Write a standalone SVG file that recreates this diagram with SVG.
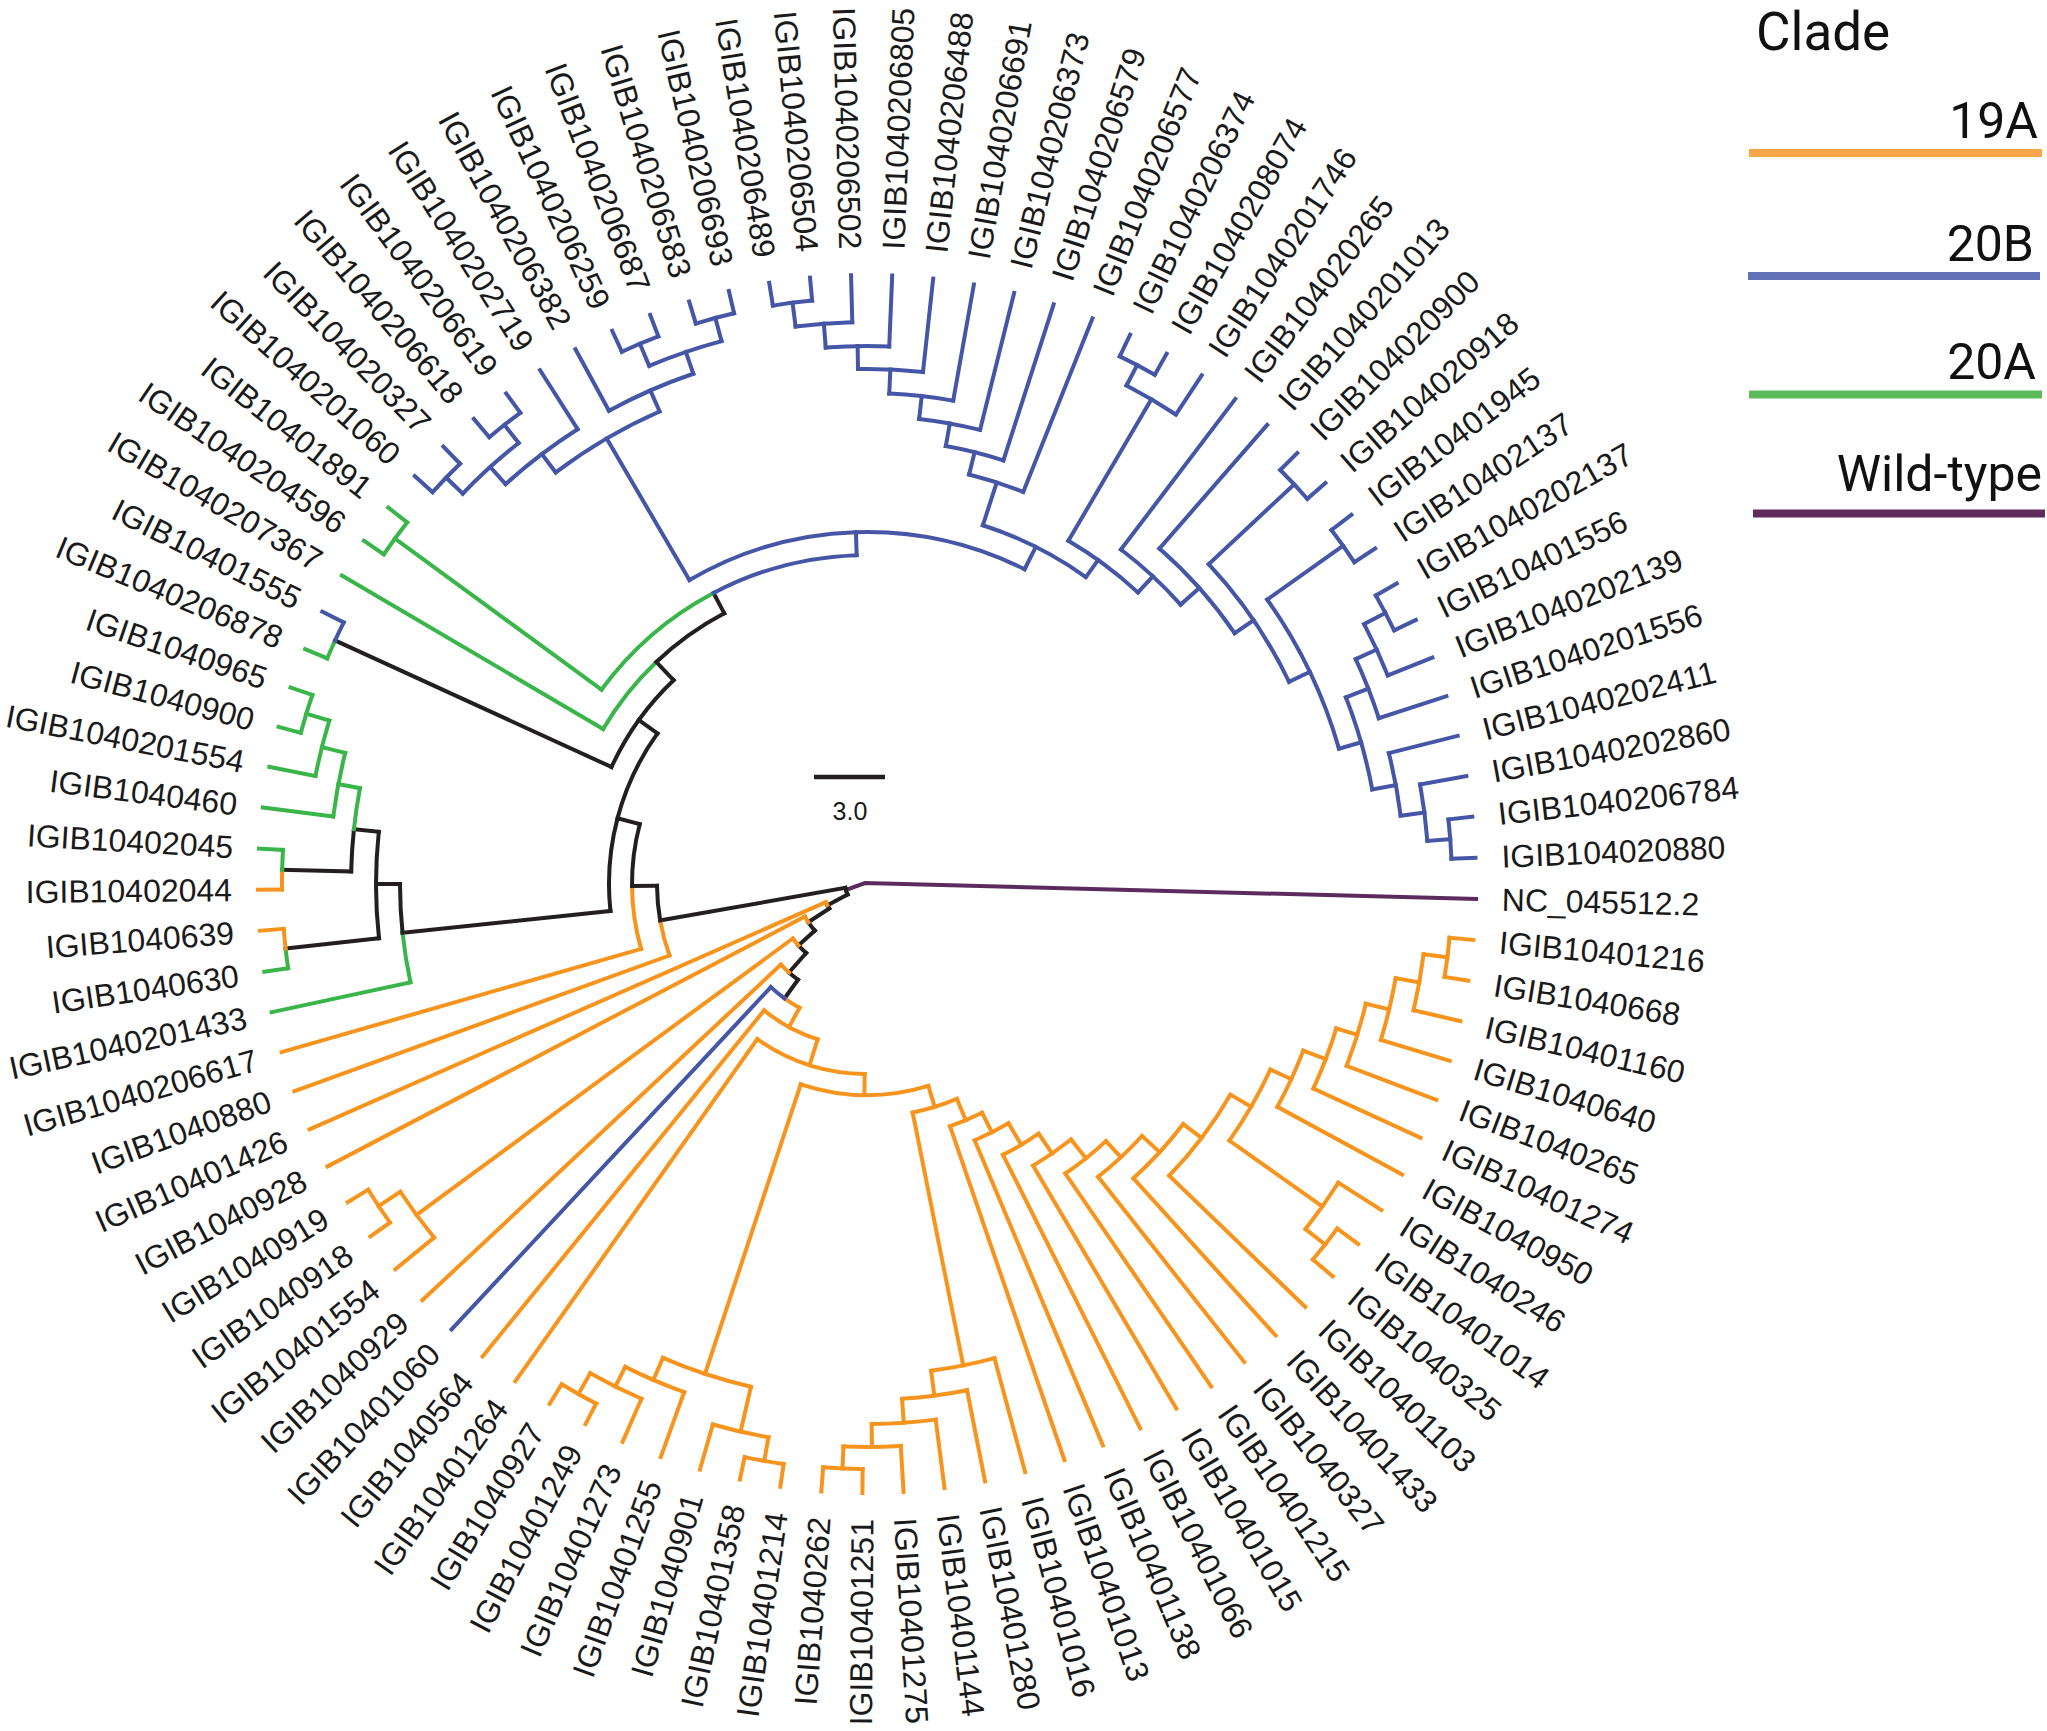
<svg xmlns="http://www.w3.org/2000/svg" width="2047" height="1731" viewBox="0 0 2047 1731">
<style>
.t path,.t circle{fill:none;stroke-width:4;stroke-linecap:square}
.o{stroke:#F7941D}.b{stroke:#4656A6}.g{stroke:#3AB54A}.k{stroke:#231F20}.p{stroke:#5C2B5E}
.lb{font-family:"Liberation Sans",Arial,sans-serif;font-size:32px;fill:#1a1a1a}
.e{text-anchor:end}
.lg{font-family:Roboto,"Liberation Sans",sans-serif;fill:#111}
</style>
<rect width="2047" height="1731" fill="#fff"/>
<g id="connectors" class="t" transform="translate(867 884)">
<path class="p" d="M-21 6L-2 -1L609 15"/>
<circle class="k" r="22" pathLength="360" stroke-dasharray="18.4 720" transform="rotate(151.6)"/>
<path class="k" transform="rotate(151.6)" d="M22 0H45"/>
<circle class="k" r="45" pathLength="360" stroke-dasharray="4.6 720" transform="rotate(147)"/>
<circle class="o" r="45" pathLength="360" stroke-dasharray="4.64 720" transform="rotate(151.6)"/>
<path class="o" transform="rotate(156.24)" d="M45 0H609"/>
<path class="k" transform="rotate(147)" d="M45 0H70"/>
<circle class="k" r="70" pathLength="360" stroke-dasharray="8.8 720" transform="rotate(138.2)"/>
<circle class="o" r="70" pathLength="360" stroke-dasharray="5.37 720" transform="rotate(147)"/>
<path class="o" transform="rotate(152.37)" d="M70 0H609"/>
<path class="k" transform="rotate(138.2)" d="M70 0H92"/>
<circle class="k" r="92" pathLength="360" stroke-dasharray="6.8 720" transform="rotate(131.4)"/>
<circle class="o" r="92" pathLength="360" stroke-dasharray="5.5 720" transform="rotate(138.2)"/>
<path class="o" transform="rotate(143.7)" d="M92 0H559"/>
<circle class="o" r="559" pathLength="360" stroke-dasharray="5.84 720" transform="rotate(140.76)"/>
<path class="o" transform="rotate(140.76)" d="M559 0H609"/>
<path class="o" transform="rotate(146.6)" d="M559 0H585"/>
<circle class="o" r="585" pathLength="360" stroke-dasharray="3.87 720" transform="rotate(144.63)"/>
<path class="o" transform="rotate(144.63)" d="M585 0H609"/>
<path class="o" transform="rotate(148.5)" d="M585 0H609"/>
<path class="k" transform="rotate(131.4)" d="M92 0H118"/>
<circle class="k" r="118" pathLength="360" stroke-dasharray="5.6 720" transform="rotate(125.8)"/>
<circle class="o" r="118" pathLength="360" stroke-dasharray="5.49 720" transform="rotate(131.4)"/>
<path class="o" transform="rotate(136.89)" d="M118 0H609"/>
<path class="k" transform="rotate(125.8)" d="M118 0H141"/>
<circle class="o" r="141" pathLength="360" stroke-dasharray="7.2 720" transform="rotate(118.6)"/>
<circle class="b" r="141" pathLength="360" stroke-dasharray="7.21 720" transform="rotate(125.8)"/>
<path class="b" transform="rotate(133.01)" d="M141 0H609"/>
<path class="o" transform="rotate(118.6)" d="M141 0H163"/>
<circle class="o" r="163" pathLength="360" stroke-dasharray="21.54 720" transform="rotate(107.6)"/>
<path class="o" transform="rotate(129.14)" d="M163 0H609"/>
<path class="o" transform="rotate(107.6)" d="M163 0H190"/>
<circle class="o" r="190" pathLength="360" stroke-dasharray="34.57 720" transform="rotate(90.7)"/>
<path class="o" transform="rotate(125.27)" d="M190 0H609"/>
<path class="o" transform="rotate(90.7)" d="M190 0H211"/>
<circle class="o" r="211" pathLength="360" stroke-dasharray="35.2 720" transform="rotate(73.1)"/>
<path class="o" transform="rotate(108.3)" d="M211 0H516"/>
<circle class="o" r="516" pathLength="360" stroke-dasharray="10.3 720" transform="rotate(103)"/>
<path class="o" transform="rotate(103)" d="M516 0H562"/>
<circle class="o" r="562" pathLength="360" stroke-dasharray="5.82 720" transform="rotate(100.1)"/>
<path class="o" transform="rotate(105.92)" d="M562 0H609"/>
<path class="o" transform="rotate(100.1)" d="M562 0H586"/>
<circle class="o" r="586" pathLength="360" stroke-dasharray="3.87 720" transform="rotate(98.18)"/>
<path class="o" transform="rotate(98.18)" d="M586 0H609"/>
<path class="o" transform="rotate(102.05)" d="M586 0H609"/>
<path class="o" transform="rotate(113.3)" d="M516 0H540"/>
<circle class="o" r="540" pathLength="360" stroke-dasharray="6.81 720" transform="rotate(109.79)"/>
<path class="o" transform="rotate(109.79)" d="M540 0H609"/>
<path class="o" transform="rotate(116.6)" d="M540 0H562"/>
<circle class="o" r="562" pathLength="360" stroke-dasharray="5.84 720" transform="rotate(113.66)"/>
<path class="o" transform="rotate(113.66)" d="M562 0H609"/>
<path class="o" transform="rotate(119.5)" d="M562 0H586"/>
<circle class="o" r="586" pathLength="360" stroke-dasharray="3.87 720" transform="rotate(117.53)"/>
<path class="o" transform="rotate(117.53)" d="M586 0H609"/>
<path class="o" transform="rotate(121.4)" d="M586 0H609"/>
<path class="o" transform="rotate(73.1)" d="M211 0H233"/>
<circle class="o" r="233" pathLength="360" stroke-dasharray="11.4 720" transform="rotate(67.3)"/>
<path class="o" transform="rotate(78.7)" d="M233 0H491"/>
<circle class="o" r="491" pathLength="360" stroke-dasharray="7.55 720" transform="rotate(74.95)"/>
<path class="o" transform="rotate(74.95)" d="M491 0H609"/>
<path class="o" transform="rotate(82.5)" d="M491 0H516"/>
<circle class="o" r="516" pathLength="360" stroke-dasharray="7.28 720" transform="rotate(78.82)"/>
<path class="o" transform="rotate(78.82)" d="M516 0H609"/>
<path class="o" transform="rotate(86.1)" d="M516 0H540"/>
<circle class="o" r="540" pathLength="360" stroke-dasharray="6.81 720" transform="rotate(82.69)"/>
<path class="o" transform="rotate(82.69)" d="M540 0H609"/>
<path class="o" transform="rotate(89.5)" d="M540 0H563"/>
<circle class="o" r="563" pathLength="360" stroke-dasharray="5.84 720" transform="rotate(86.56)"/>
<path class="o" transform="rotate(86.56)" d="M563 0H609"/>
<path class="o" transform="rotate(92.4)" d="M563 0H585"/>
<circle class="o" r="585" pathLength="360" stroke-dasharray="3.87 720" transform="rotate(90.43)"/>
<path class="o" transform="rotate(90.43)" d="M585 0H609"/>
<path class="o" transform="rotate(94.3)" d="M585 0H609"/>
<path class="o" transform="rotate(67.3)" d="M233 0H256"/>
<circle class="o" r="256" pathLength="360" stroke-dasharray="7.78 720" transform="rotate(63.3)"/>
<path class="o" transform="rotate(71.08)" d="M256 0H609"/>
<path class="o" transform="rotate(63.3)" d="M256 0H278"/>
<circle class="o" r="278" pathLength="360" stroke-dasharray="7.81 720" transform="rotate(59.4)"/>
<path class="o" transform="rotate(67.21)" d="M278 0H609"/>
<path class="o" transform="rotate(59.4)" d="M278 0H303"/>
<circle class="o" r="303" pathLength="360" stroke-dasharray="7.84 720" transform="rotate(55.5)"/>
<path class="o" transform="rotate(63.34)" d="M303 0H609"/>
<path class="o" transform="rotate(55.5)" d="M303 0H327"/>
<circle class="o" r="327" pathLength="360" stroke-dasharray="8.07 720" transform="rotate(51.4)"/>
<path class="o" transform="rotate(59.47)" d="M327 0H609"/>
<path class="o" transform="rotate(51.4)" d="M327 0H351"/>
<circle class="o" r="351" pathLength="360" stroke-dasharray="8.49 720" transform="rotate(47.1)"/>
<path class="o" transform="rotate(55.59)" d="M351 0H609"/>
<path class="o" transform="rotate(47.1)" d="M351 0H373"/>
<circle class="o" r="373" pathLength="360" stroke-dasharray="9.22 720" transform="rotate(42.5)"/>
<path class="o" transform="rotate(51.72)" d="M373 0H609"/>
<path class="o" transform="rotate(42.5)" d="M373 0H397"/>
<circle class="o" r="397" pathLength="360" stroke-dasharray="10.65 720" transform="rotate(37.2)"/>
<path class="o" transform="rotate(47.85)" d="M397 0H609"/>
<path class="o" transform="rotate(37.2)" d="M397 0H420"/>
<circle class="o" r="420" pathLength="360" stroke-dasharray="13.88 720" transform="rotate(30.1)"/>
<path class="o" transform="rotate(43.98)" d="M420 0H609"/>
<path class="o" transform="rotate(30.1)" d="M420 0H444"/>
<circle class="o" r="444" pathLength="360" stroke-dasharray="10.6 720" transform="rotate(24.7)"/>
<path class="o" transform="rotate(35.3)" d="M444 0H558"/>
<circle class="o" r="558" pathLength="360" stroke-dasharray="5.83 720" transform="rotate(32.37)"/>
<path class="o" transform="rotate(32.37)" d="M558 0H609"/>
<path class="o" transform="rotate(38.2)" d="M558 0H583"/>
<circle class="o" r="583" pathLength="360" stroke-dasharray="3.87 720" transform="rotate(36.24)"/>
<path class="o" transform="rotate(36.24)" d="M583 0H609"/>
<path class="o" transform="rotate(40.11)" d="M583 0H609"/>
<path class="o" transform="rotate(24.7)" d="M444 0H467"/>
<circle class="o" r="467" pathLength="360" stroke-dasharray="7.6 720" transform="rotate(20.9)"/>
<path class="o" transform="rotate(28.5)" d="M467 0H609"/>
<path class="o" transform="rotate(20.9)" d="M467 0H491"/>
<circle class="o" r="491" pathLength="360" stroke-dasharray="7.53 720" transform="rotate(17.1)"/>
<path class="o" transform="rotate(24.63)" d="M491 0H609"/>
<path class="o" transform="rotate(17.1)" d="M491 0H513"/>
<circle class="o" r="513" pathLength="360" stroke-dasharray="7.26 720" transform="rotate(13.5)"/>
<path class="o" transform="rotate(20.76)" d="M513 0H609"/>
<path class="o" transform="rotate(13.5)" d="M513 0H537"/>
<circle class="o" r="537" pathLength="360" stroke-dasharray="6.78 720" transform="rotate(10.1)"/>
<path class="o" transform="rotate(16.88)" d="M537 0H609"/>
<path class="o" transform="rotate(10.1)" d="M537 0H561"/>
<circle class="o" r="561" pathLength="360" stroke-dasharray="5.81 720" transform="rotate(7.2)"/>
<path class="o" transform="rotate(13.01)" d="M561 0H609"/>
<path class="o" transform="rotate(7.2)" d="M561 0H585"/>
<circle class="o" r="585" pathLength="360" stroke-dasharray="3.87 720" transform="rotate(5.27)"/>
<path class="o" transform="rotate(5.27)" d="M585 0H609"/>
<path class="o" transform="rotate(9.14)" d="M585 0H609"/>
<path class="k" transform="rotate(170)" d="M22 0H210"/>
<circle class="o" r="210" pathLength="360" stroke-dasharray="9.89 720" transform="rotate(160.11)"/>
<circle class="k" r="210" pathLength="360" stroke-dasharray="9.5 720" transform="rotate(170)"/>
<path class="o" transform="rotate(160.11)" d="M210 0H609"/>
<path class="k" transform="rotate(179.5)" d="M210 0H235"/>
<circle class="o" r="235" pathLength="360" stroke-dasharray="15.52 720" transform="rotate(163.98)"/>
<circle class="k" r="235" pathLength="360" stroke-dasharray="15.25 720" transform="rotate(179.5)"/>
<path class="o" transform="rotate(163.98)" d="M235 0H609"/>
<path class="k" transform="rotate(194.75)" d="M235 0H258"/>
<circle class="k" r="258" pathLength="360" stroke-dasharray="41.7 720" transform="rotate(174)"/>
<path class="k" transform="rotate(174)" d="M258 0H467"/>
<circle class="g" r="467" pathLength="360" stroke-dasharray="6.15 720" transform="rotate(167.85)"/>
<circle class="k" r="467" pathLength="360" stroke-dasharray="6 720" transform="rotate(174)"/>
<path class="g" transform="rotate(167.85)" d="M467 0H609"/>
<path class="k" transform="rotate(180)" d="M467 0H491"/>
<circle class="k" r="491" pathLength="360" stroke-dasharray="12.44 720" transform="rotate(173.66)"/>
<path class="k" transform="rotate(173.66)" d="M491 0H585"/>
<circle class="g" r="585" pathLength="360" stroke-dasharray="1.94 720" transform="rotate(171.72)"/>
<circle class="o" r="585" pathLength="360" stroke-dasharray="1.94 720" transform="rotate(173.66)"/>
<path class="g" transform="rotate(171.72)" d="M585 0H609"/>
<path class="o" transform="rotate(175.6)" d="M585 0H609"/>
<path class="k" transform="rotate(186.1)" d="M491 0H516"/>
<circle class="k" r="516" pathLength="360" stroke-dasharray="4.7 720" transform="rotate(181.4)"/>
<circle class="g" r="516" pathLength="360" stroke-dasharray="4.6 720" transform="rotate(186.1)"/>
<path class="k" transform="rotate(181.4)" d="M516 0H585"/>
<circle class="o" r="585" pathLength="360" stroke-dasharray="1.93 720" transform="rotate(179.47)"/>
<circle class="g" r="585" pathLength="360" stroke-dasharray="1.94 720" transform="rotate(181.4)"/>
<path class="o" transform="rotate(179.47)" d="M585 0H609"/>
<path class="g" transform="rotate(183.34)" d="M585 0H609"/>
<path class="g" transform="rotate(190.7)" d="M516 0H538"/>
<circle class="g" r="538" pathLength="360" stroke-dasharray="6.89 720" transform="rotate(187.21)"/>
<path class="g" transform="rotate(187.21)" d="M538 0H609"/>
<path class="g" transform="rotate(194.1)" d="M538 0H562"/>
<circle class="g" r="562" pathLength="360" stroke-dasharray="5.82 720" transform="rotate(191.08)"/>
<path class="g" transform="rotate(191.08)" d="M562 0H609"/>
<path class="g" transform="rotate(196.9)" d="M562 0H586"/>
<circle class="g" r="586" pathLength="360" stroke-dasharray="3.87 720" transform="rotate(194.95)"/>
<path class="g" transform="rotate(194.95)" d="M586 0H609"/>
<path class="g" transform="rotate(198.82)" d="M586 0H609"/>
<path class="k" transform="rotate(215.7)" d="M258 0H281"/>
<circle class="k" r="281" pathLength="360" stroke-dasharray="21.9 720" transform="rotate(204.6)"/>
<path class="k" transform="rotate(204.6)" d="M281 0H585"/>
<circle class="g" r="585" pathLength="360" stroke-dasharray="1.91 720" transform="rotate(202.69)"/>
<circle class="b" r="585" pathLength="360" stroke-dasharray="1.96 720" transform="rotate(204.6)"/>
<path class="g" transform="rotate(202.69)" d="M585 0H609"/>
<path class="b" transform="rotate(206.56)" d="M585 0H609"/>
<path class="k" transform="rotate(226.5)" d="M281 0H306"/>
<circle class="g" r="306" pathLength="360" stroke-dasharray="16.07 720" transform="rotate(210.43)"/>
<circle class="k" r="306" pathLength="360" stroke-dasharray="15.7 720" transform="rotate(226.5)"/>
<path class="g" transform="rotate(210.43)" d="M306 0H609"/>
<path class="k" transform="rotate(242.2)" d="M306 0H329"/>
<circle class="g" r="329" pathLength="360" stroke-dasharray="26 720" transform="rotate(216.2)"/>
<circle class="b" r="329" pathLength="360" stroke-dasharray="26 720" transform="rotate(242.2)"/>
<path class="g" transform="rotate(216.2)" d="M329 0H585"/>
<circle class="g" r="585" pathLength="360" stroke-dasharray="3.87 720" transform="rotate(214.31)"/>
<path class="g" transform="rotate(214.31)" d="M585 0H609"/>
<path class="g" transform="rotate(218.18)" d="M585 0H609"/>
<path class="b" transform="rotate(268.2)" d="M329 0H352"/>
<circle class="b" r="352" pathLength="360" stroke-dasharray="56.9 720" transform="rotate(239.7)"/>
<path class="b" transform="rotate(239.7)" d="M352 0H516"/>
<circle class="b" r="516" pathLength="360" stroke-dasharray="13.4 720" transform="rotate(232.9)"/>
<path class="b" transform="rotate(232.9)" d="M516 0H539"/>
<circle class="b" r="539" pathLength="360" stroke-dasharray="9.63 720" transform="rotate(227.9)"/>
<path class="b" transform="rotate(237.53)" d="M539 0H609"/>
<path class="b" transform="rotate(227.9)" d="M539 0H562"/>
<circle class="b" r="562" pathLength="360" stroke-dasharray="7.7 720" transform="rotate(224)"/>
<path class="b" transform="rotate(224)" d="M562 0H585"/>
<circle class="b" r="585" pathLength="360" stroke-dasharray="3.87 720" transform="rotate(222.05)"/>
<path class="b" transform="rotate(222.05)" d="M585 0H609"/>
<path class="b" transform="rotate(225.92)" d="M585 0H609"/>
<path class="b" transform="rotate(231.7)" d="M562 0H585"/>
<circle class="b" r="585" pathLength="360" stroke-dasharray="3.87 720" transform="rotate(229.79)"/>
<path class="b" transform="rotate(229.79)" d="M585 0H609"/>
<path class="b" transform="rotate(233.66)" d="M585 0H609"/>
<path class="b" transform="rotate(246.3)" d="M516 0H539"/>
<circle class="b" r="539" pathLength="360" stroke-dasharray="9.8 720" transform="rotate(241.4)"/>
<path class="b" transform="rotate(241.4)" d="M539 0H609"/>
<path class="b" transform="rotate(251.2)" d="M539 0H562"/>
<circle class="b" r="562" pathLength="360" stroke-dasharray="7.8 720" transform="rotate(247.2)"/>
<path class="b" transform="rotate(247.2)" d="M562 0H586"/>
<circle class="b" r="586" pathLength="360" stroke-dasharray="3.87 720" transform="rotate(245.27)"/>
<path class="b" transform="rotate(245.27)" d="M586 0H609"/>
<path class="b" transform="rotate(249.14)" d="M586 0H609"/>
<path class="b" transform="rotate(255)" d="M562 0H586"/>
<circle class="b" r="586" pathLength="360" stroke-dasharray="3.87 720" transform="rotate(253.02)"/>
<path class="b" transform="rotate(253.02)" d="M586 0H609"/>
<path class="b" transform="rotate(256.89)" d="M586 0H609"/>
<path class="b" transform="rotate(296.6)" d="M352 0H377"/>
<circle class="b" r="377" pathLength="360" stroke-dasharray="17.6 720" transform="rotate(287.9)"/>
<path class="b" transform="rotate(287.9)" d="M377 0H422"/>
<circle class="b" r="422" pathLength="360" stroke-dasharray="7.73 720" transform="rotate(284)"/>
<path class="b" transform="rotate(291.73)" d="M422 0H609"/>
<path class="b" transform="rotate(284)" d="M422 0H445"/>
<circle class="b" r="445" pathLength="360" stroke-dasharray="7.65 720" transform="rotate(280.2)"/>
<path class="b" transform="rotate(287.85)" d="M445 0H609"/>
<path class="b" transform="rotate(280.2)" d="M445 0H468"/>
<circle class="b" r="468" pathLength="360" stroke-dasharray="7.58 720" transform="rotate(276.4)"/>
<path class="b" transform="rotate(283.98)" d="M468 0H609"/>
<path class="b" transform="rotate(276.4)" d="M468 0H491"/>
<circle class="b" r="491" pathLength="360" stroke-dasharray="7.51 720" transform="rotate(272.6)"/>
<path class="b" transform="rotate(280.11)" d="M491 0H609"/>
<path class="b" transform="rotate(272.6)" d="M491 0H515"/>
<circle class="b" r="515" pathLength="360" stroke-dasharray="7.24 720" transform="rotate(269)"/>
<path class="b" transform="rotate(276.24)" d="M515 0H609"/>
<path class="b" transform="rotate(269)" d="M515 0H538"/>
<circle class="b" r="538" pathLength="360" stroke-dasharray="6.77 720" transform="rotate(265.6)"/>
<path class="b" transform="rotate(272.37)" d="M538 0H609"/>
<path class="b" transform="rotate(265.6)" d="M538 0H562"/>
<circle class="b" r="562" pathLength="360" stroke-dasharray="5.8 720" transform="rotate(262.7)"/>
<path class="b" transform="rotate(268.5)" d="M562 0H609"/>
<path class="b" transform="rotate(262.7)" d="M562 0H586"/>
<circle class="b" r="586" pathLength="360" stroke-dasharray="3.87 720" transform="rotate(260.76)"/>
<path class="b" transform="rotate(260.76)" d="M586 0H609"/>
<path class="b" transform="rotate(264.63)" d="M586 0H609"/>
<path class="b" transform="rotate(305.5)" d="M377 0H398"/>
<circle class="b" r="398" pathLength="360" stroke-dasharray="12.5 720" transform="rotate(300.4)"/>
<path class="b" transform="rotate(300.4)" d="M398 0H562"/>
<circle class="b" r="562" pathLength="360" stroke-dasharray="5.84 720" transform="rotate(297.5)"/>
<path class="b" transform="rotate(303.34)" d="M562 0H609"/>
<path class="b" transform="rotate(297.5)" d="M562 0H585"/>
<circle class="b" r="585" pathLength="360" stroke-dasharray="3.87 720" transform="rotate(295.6)"/>
<path class="b" transform="rotate(295.6)" d="M585 0H609"/>
<path class="b" transform="rotate(299.47)" d="M585 0H609"/>
<path class="b" transform="rotate(312.9)" d="M398 0H420"/>
<circle class="b" r="420" pathLength="360" stroke-dasharray="11.09 720" transform="rotate(307.21)"/>
<path class="b" transform="rotate(307.21)" d="M420 0H609"/>
<path class="b" transform="rotate(318.3)" d="M420 0H445"/>
<circle class="b" r="445" pathLength="360" stroke-dasharray="14.62 720" transform="rotate(311.08)"/>
<path class="b" transform="rotate(311.08)" d="M445 0H609"/>
<path class="b" transform="rotate(325.7)" d="M445 0H468"/>
<circle class="b" r="468" pathLength="360" stroke-dasharray="17.5 720" transform="rotate(316.9)"/>
<path class="b" transform="rotate(316.9)" d="M468 0H585"/>
<circle class="b" r="585" pathLength="360" stroke-dasharray="3.87 720" transform="rotate(314.95)"/>
<path class="b" transform="rotate(314.95)" d="M585 0H609"/>
<path class="b" transform="rotate(318.82)" d="M585 0H609"/>
<path class="b" transform="rotate(334.4)" d="M468 0H491"/>
<circle class="b" r="491" pathLength="360" stroke-dasharray="19.4 720" transform="rotate(324.6)"/>
<path class="b" transform="rotate(324.6)" d="M491 0H584"/>
<circle class="b" r="584" pathLength="360" stroke-dasharray="3.87 720" transform="rotate(322.69)"/>
<path class="b" transform="rotate(322.69)" d="M584 0H609"/>
<path class="b" transform="rotate(326.56)" d="M584 0H609"/>
<path class="b" transform="rotate(344)" d="M491 0H514"/>
<circle class="b" r="514" pathLength="360" stroke-dasharray="10.7 720" transform="rotate(338.7)"/>
<path class="b" transform="rotate(338.7)" d="M514 0H538"/>
<circle class="b" r="538" pathLength="360" stroke-dasharray="6.75 720" transform="rotate(335.3)"/>
<path class="b" transform="rotate(342.05)" d="M538 0H609"/>
<path class="b" transform="rotate(335.3)" d="M538 0H561"/>
<circle class="b" r="561" pathLength="360" stroke-dasharray="5.78 720" transform="rotate(332.4)"/>
<path class="b" transform="rotate(338.18)" d="M561 0H609"/>
<path class="b" transform="rotate(332.4)" d="M561 0H585"/>
<circle class="b" r="585" pathLength="360" stroke-dasharray="3.87 720" transform="rotate(330.44)"/>
<path class="b" transform="rotate(330.44)" d="M585 0H609"/>
<path class="b" transform="rotate(334.31)" d="M585 0H609"/>
<path class="b" transform="rotate(349.4)" d="M514 0H538"/>
<circle class="b" r="538" pathLength="360" stroke-dasharray="6.78 720" transform="rotate(345.92)"/>
<path class="b" transform="rotate(345.92)" d="M538 0H609"/>
<path class="b" transform="rotate(352.7)" d="M538 0H562"/>
<circle class="b" r="562" pathLength="360" stroke-dasharray="5.81 720" transform="rotate(349.79)"/>
<path class="b" transform="rotate(349.79)" d="M562 0H609"/>
<path class="b" transform="rotate(355.6)" d="M562 0H585"/>
<circle class="b" r="585" pathLength="360" stroke-dasharray="3.87 720" transform="rotate(353.66)"/>
<path class="b" transform="rotate(353.66)" d="M585 0H609"/>
<path class="b" transform="rotate(357.53)" d="M585 0H609"/>
</g>
<g id="labels" transform="translate(867 884)">
<g id="leaf-NC_045512-2"><text class="lb" transform="rotate(1.4)" x="635" dy="0.35em">NC_045512.2</text></g>
<g id="leaf-01"><text class="lb" transform="rotate(5.27)" x="635" dy="0.35em">IGIB10401216</text></g>
<g id="leaf-02"><text class="lb" transform="rotate(9.14)" x="635" dy="0.35em">IGIB1040668</text></g>
<g id="leaf-03"><text class="lb" transform="rotate(13.01)" x="635" dy="0.35em">IGIB10401160</text></g>
<g id="leaf-04"><text class="lb" transform="rotate(16.88)" x="635" dy="0.35em">IGIB1040640</text></g>
<g id="leaf-05"><text class="lb" transform="rotate(20.76)" x="635" dy="0.35em">IGIB1040265</text></g>
<g id="leaf-06"><text class="lb" transform="rotate(24.63)" x="635" dy="0.35em">IGIB10401274</text></g>
<g id="leaf-07"><text class="lb" transform="rotate(28.5)" x="635" dy="0.35em">IGIB1040950</text></g>
<g id="leaf-08"><text class="lb" transform="rotate(32.37)" x="635" dy="0.35em">IGIB1040246</text></g>
<g id="leaf-09"><text class="lb" transform="rotate(36.24)" x="635" dy="0.35em">IGIB10401014</text></g>
<g id="leaf-10"><text class="lb" transform="rotate(40.11)" x="635" dy="0.35em">IGIB1040325</text></g>
<g id="leaf-11"><text class="lb" transform="rotate(43.98)" x="635" dy="0.35em">IGIB10401103</text></g>
<g id="leaf-12"><text class="lb" transform="rotate(47.85)" x="635" dy="0.35em">IGIB10401433</text></g>
<g id="leaf-13"><text class="lb" transform="rotate(51.72)" x="635" dy="0.35em">IGIB1040327</text></g>
<g id="leaf-14"><text class="lb" transform="rotate(55.59)" x="635" dy="0.35em">IGIB10401215</text></g>
<g id="leaf-15"><text class="lb" transform="rotate(59.47)" x="635" dy="0.35em">IGIB10401015</text></g>
<g id="leaf-16"><text class="lb" transform="rotate(63.34)" x="635" dy="0.35em">IGIB10401066</text></g>
<g id="leaf-17"><text class="lb" transform="rotate(67.21)" x="635" dy="0.35em">IGIB10401138</text></g>
<g id="leaf-18"><text class="lb" transform="rotate(71.08)" x="635" dy="0.35em">IGIB10401013</text></g>
<g id="leaf-19"><text class="lb" transform="rotate(74.95)" x="635" dy="0.35em">IGIB10401016</text></g>
<g id="leaf-20"><text class="lb" transform="rotate(78.82)" x="635" dy="0.35em">IGIB10401280</text></g>
<g id="leaf-21"><text class="lb" transform="rotate(82.69)" x="635" dy="0.35em">IGIB10401144</text></g>
<g id="leaf-22"><text class="lb" transform="rotate(86.56)" x="635" dy="0.35em">IGIB10401275</text></g>
<g id="leaf-23"><text class="lb e" transform="rotate(270.43)" x="-635" dy="0.35em">IGIB10401251</text></g>
<g id="leaf-24"><text class="lb e" transform="rotate(274.3)" x="-635" dy="0.35em">IGIB1040262</text></g>
<g id="leaf-25"><text class="lb e" transform="rotate(278.18)" x="-635" dy="0.35em">IGIB10401214</text></g>
<g id="leaf-26"><text class="lb e" transform="rotate(282.05)" x="-635" dy="0.35em">IGIB10401358</text></g>
<g id="leaf-27"><text class="lb e" transform="rotate(285.92)" x="-635" dy="0.35em">IGIB1040901</text></g>
<g id="leaf-28"><text class="lb e" transform="rotate(289.79)" x="-635" dy="0.35em">IGIB10401255</text></g>
<g id="leaf-29"><text class="lb e" transform="rotate(293.66)" x="-635" dy="0.35em">IGIB10401273</text></g>
<g id="leaf-30"><text class="lb e" transform="rotate(297.53)" x="-635" dy="0.35em">IGIB10401249</text></g>
<g id="leaf-31"><text class="lb e" transform="rotate(301.4)" x="-635" dy="0.35em">IGIB1040927</text></g>
<g id="leaf-32"><text class="lb e" transform="rotate(305.27)" x="-635" dy="0.35em">IGIB10401264</text></g>
<g id="leaf-33"><text class="lb e" transform="rotate(309.14)" x="-635" dy="0.35em">IGIB1040564</text></g>
<g id="leaf-34"><text class="lb e" transform="rotate(313.01)" x="-635" dy="0.35em">IGIB10401060</text></g>
<g id="leaf-35"><text class="lb e" transform="rotate(316.89)" x="-635" dy="0.35em">IGIB1040929</text></g>
<g id="leaf-36"><text class="lb e" transform="rotate(320.76)" x="-635" dy="0.35em">IGIB10401554</text></g>
<g id="leaf-37"><text class="lb e" transform="rotate(324.63)" x="-635" dy="0.35em">IGIB1040918</text></g>
<g id="leaf-38"><text class="lb e" transform="rotate(328.5)" x="-635" dy="0.35em">IGIB1040919</text></g>
<g id="leaf-39"><text class="lb e" transform="rotate(332.37)" x="-635" dy="0.35em">IGIB1040928</text></g>
<g id="leaf-40"><text class="lb e" transform="rotate(336.24)" x="-635" dy="0.35em">IGIB10401426</text></g>
<g id="leaf-41"><text class="lb e" transform="rotate(340.11)" x="-635" dy="0.35em">IGIB1040880</text></g>
<g id="leaf-42"><text class="lb e" transform="rotate(343.98)" x="-635" dy="0.35em">IGIB1040206617</text></g>
<g id="leaf-43"><text class="lb e" transform="rotate(347.85)" x="-635" dy="0.35em">IGIB1040201433</text></g>
<g id="leaf-44"><text class="lb e" transform="rotate(351.72)" x="-635" dy="0.35em">IGIB1040630</text></g>
<g id="leaf-45"><text class="lb e" transform="rotate(355.6)" x="-635" dy="0.35em">IGIB1040639</text></g>
<g id="leaf-46"><text class="lb e" transform="rotate(359.47)" x="-635" dy="0.35em">IGIB10402044</text></g>
<g id="leaf-47"><text class="lb e" transform="rotate(3.34)" x="-635" dy="0.35em">IGIB10402045</text></g>
<g id="leaf-48"><text class="lb e" transform="rotate(7.21)" x="-635" dy="0.35em">IGIB1040460</text></g>
<g id="leaf-49"><text class="lb e" transform="rotate(11.08)" x="-635" dy="0.35em">IGIB1040201554</text></g>
<g id="leaf-50"><text class="lb e" transform="rotate(14.95)" x="-635" dy="0.35em">IGIB1040900</text></g>
<g id="leaf-51"><text class="lb e" transform="rotate(18.82)" x="-635" dy="0.35em">IGIB1040965</text></g>
<g id="leaf-52"><text class="lb e" transform="rotate(22.69)" x="-635" dy="0.35em">IGIB1040206878</text></g>
<g id="leaf-53"><text class="lb e" transform="rotate(26.56)" x="-635" dy="0.35em">IGIB10401555</text></g>
<g id="leaf-54"><text class="lb e" transform="rotate(30.43)" x="-635" dy="0.35em">IGIB1040207367</text></g>
<g id="leaf-55"><text class="lb e" transform="rotate(34.31)" x="-635" dy="0.35em">IGIB1040204596</text></g>
<g id="leaf-56"><text class="lb e" transform="rotate(38.18)" x="-635" dy="0.35em">IGIB10401891</text></g>
<g id="leaf-57"><text class="lb e" transform="rotate(42.05)" x="-635" dy="0.35em">IGIB1040201060</text></g>
<g id="leaf-58"><text class="lb e" transform="rotate(45.92)" x="-635" dy="0.35em">IGIB104020327</text></g>
<g id="leaf-59"><text class="lb e" transform="rotate(49.79)" x="-635" dy="0.35em">IGIB1040206618</text></g>
<g id="leaf-60"><text class="lb e" transform="rotate(53.66)" x="-635" dy="0.35em">IGIB1040206619</text></g>
<g id="leaf-61"><text class="lb e" transform="rotate(57.53)" x="-635" dy="0.35em">IGIB1040202719</text></g>
<g id="leaf-62"><text class="lb e" transform="rotate(61.4)" x="-635" dy="0.35em">IGIB1040206382</text></g>
<g id="leaf-63"><text class="lb e" transform="rotate(65.27)" x="-635" dy="0.35em">IGIB1040206259</text></g>
<g id="leaf-64"><text class="lb e" transform="rotate(69.14)" x="-635" dy="0.35em">IGIB1040206687</text></g>
<g id="leaf-65"><text class="lb e" transform="rotate(73.02)" x="-635" dy="0.35em">IGIB1040206583</text></g>
<g id="leaf-66"><text class="lb e" transform="rotate(76.89)" x="-635" dy="0.35em">IGIB1040206693</text></g>
<g id="leaf-67"><text class="lb e" transform="rotate(80.76)" x="-635" dy="0.35em">IGIB1040206489</text></g>
<g id="leaf-68"><text class="lb e" transform="rotate(84.63)" x="-635" dy="0.35em">IGIB1040206504</text></g>
<g id="leaf-69"><text class="lb e" transform="rotate(88.5)" x="-635" dy="0.35em">IGIB1040206502</text></g>
<g id="leaf-70"><text class="lb" transform="rotate(272.37)" x="635" dy="0.35em">IGIB1040206805</text></g>
<g id="leaf-71"><text class="lb" transform="rotate(276.24)" x="635" dy="0.35em">IGIB1040206488</text></g>
<g id="leaf-72"><text class="lb" transform="rotate(280.11)" x="635" dy="0.35em">IGIB1040206691</text></g>
<g id="leaf-73"><text class="lb" transform="rotate(283.98)" x="635" dy="0.35em">IGIB1040206373</text></g>
<g id="leaf-74"><text class="lb" transform="rotate(287.85)" x="635" dy="0.35em">IGIB1040206579</text></g>
<g id="leaf-75"><text class="lb" transform="rotate(291.73)" x="635" dy="0.35em">IGIB1040206577</text></g>
<g id="leaf-76"><text class="lb" transform="rotate(295.6)" x="635" dy="0.35em">IGIB1040206374</text></g>
<g id="leaf-77"><text class="lb" transform="rotate(299.47)" x="635" dy="0.35em">IGIB1040208074</text></g>
<g id="leaf-78"><text class="lb" transform="rotate(303.34)" x="635" dy="0.35em">IGIB1040201746</text></g>
<g id="leaf-79"><text class="lb" transform="rotate(307.21)" x="635" dy="0.35em">IGIB104020265</text></g>
<g id="leaf-80"><text class="lb" transform="rotate(311.08)" x="635" dy="0.35em">IGIB1040201013</text></g>
<g id="leaf-81"><text class="lb" transform="rotate(314.95)" x="635" dy="0.35em">IGIB104020900</text></g>
<g id="leaf-82"><text class="lb" transform="rotate(318.82)" x="635" dy="0.35em">IGIB104020918</text></g>
<g id="leaf-83"><text class="lb" transform="rotate(322.69)" x="635" dy="0.35em">IGIB10401945</text></g>
<g id="leaf-84"><text class="lb" transform="rotate(326.56)" x="635" dy="0.35em">IGIB10402137</text></g>
<g id="leaf-85"><text class="lb" transform="rotate(330.44)" x="635" dy="0.35em">IGIB1040202137</text></g>
<g id="leaf-86"><text class="lb" transform="rotate(334.31)" x="635" dy="0.35em">IGIB10401556</text></g>
<g id="leaf-87"><text class="lb" transform="rotate(338.18)" x="635" dy="0.35em">IGIB1040202139</text></g>
<g id="leaf-88"><text class="lb" transform="rotate(342.05)" x="635" dy="0.35em">IGIB1040201556</text></g>
<g id="leaf-89"><text class="lb" transform="rotate(345.92)" x="635" dy="0.35em">IGIB1040202411</text></g>
<g id="leaf-90"><text class="lb" transform="rotate(349.79)" x="635" dy="0.35em">IGIB1040202860</text></g>
<g id="leaf-91"><text class="lb" transform="rotate(353.66)" x="635" dy="0.35em">IGIB1040206784</text></g>
<g id="leaf-92"><text class="lb" transform="rotate(357.53)" x="635" dy="0.35em">IGIB104020880</text></g>
</g>
<g id="scale-bar">
<path d="M814 777H885" stroke="#231F20" stroke-width="4.5"/>
<text x="850" y="820" text-anchor="middle" font-family="Liberation Sans, Arial, sans-serif" font-size="25" fill="#1a1a1a">3.0</text>
</g>
<g id="legend">
<text class="lg" x="1756" y="50" font-size="53">Clade</text>
<g id="legend-19A"><text class="lg" x="2038" y="138" font-size="50" text-anchor="end">19A</text><path d="M1749 153H2042" stroke="#F9A54A" stroke-width="8"/></g>
<g id="legend-20B"><text class="lg" x="2034" y="261" font-size="50" text-anchor="end">20B</text><path d="M1748 276H2040" stroke="#6270B6" stroke-width="8"/></g>
<g id="legend-20A"><text class="lg" x="2036" y="379" font-size="50" text-anchor="end">20A</text><path d="M1749 394.5H2042" stroke="#5BBA5A" stroke-width="8"/></g>
<g id="legend-wild"><text class="lg" x="2042" y="491" font-size="50" text-anchor="end">Wild-type</text><path d="M1753 513.5H2045" stroke="#5F2D5C" stroke-width="8"/></g>
</g>
</svg>
